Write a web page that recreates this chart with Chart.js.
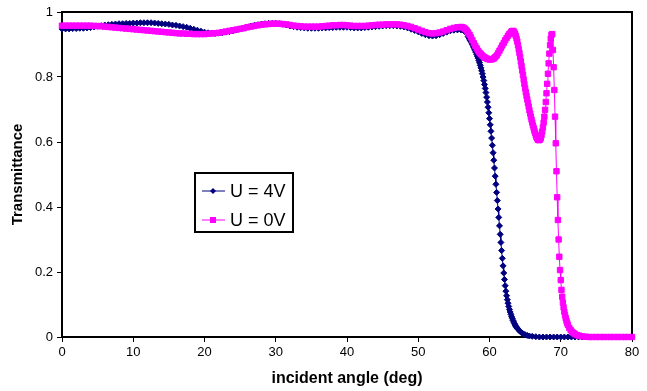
<!DOCTYPE html>
<html>
<head>
<meta charset="utf-8">
<script src="https://cdn.jsdelivr.net/npm/chart.js@4.4.0/dist/chart.umd.min.js"></script>
<style>
  body { margin: 0; background: #fff; }
  #wrap { position: relative; width: 647px; height: 391px; }
</style>
</head>
<body>
<div id="wrap"><canvas id="transChart"></canvas></div>
<script>
// angles (deg) shared by both curves in the flat part
var flatAngles = [0, 0.5, 1, 1.5, 2, 2.5, 3, 3.5, 4, 4.5, 5, 5.5, 6, 6.5, 7, 7.5, 8, 8.5, 9, 9.5,
  10, 10.5, 11, 11.5, 12, 12.5, 13, 13.5, 14, 14.5, 15, 15.5, 16, 16.5, 17, 17.5, 18, 18.5, 19, 19.5,
  20, 20.5, 21, 21.5, 22, 22.5, 23, 23.5, 24, 24.5, 25, 25.5, 26, 26.5, 27, 27.5, 28, 28.5, 29, 29.5,
  30, 30.5, 31, 31.5, 32, 32.5, 33, 33.5, 34, 34.5, 35, 35.5, 36, 36.5, 37, 37.5, 38, 38.5, 39, 39.5,
  40, 40.5, 41, 41.5, 42, 42.5, 43, 43.5, 44, 44.5, 45, 45.5, 46, 46.5, 47, 47.5, 48, 48.5, 49, 49.5,
  50, 50.5, 51, 51.5, 52, 52.5, 53, 53.5, 54, 54.5, 55, 55.5, 56];

// U = 4V
var u4Flat = [0.948, 0.948, 0.948, 0.949, 0.949, 0.95, 0.95, 0.951, 0.952, 0.954, 0.956, 0.958, 0.96, 0.961, 0.962, 0.963, 0.964, 0.964, 0.965, 0.965,
  0.966, 0.966, 0.967, 0.967, 0.967, 0.967, 0.966, 0.965, 0.964, 0.963, 0.962, 0.96, 0.959, 0.957, 0.955, 0.953, 0.95, 0.947, 0.944, 0.941,
  0.938, 0.936, 0.935, 0.934, 0.935, 0.936, 0.938, 0.94, 0.942, 0.945, 0.948, 0.951, 0.954, 0.957, 0.959, 0.961, 0.963, 0.964, 0.965, 0.965,
  0.965, 0.964, 0.962, 0.96, 0.957, 0.955, 0.953, 0.952, 0.951, 0.95, 0.95, 0.95, 0.95, 0.951, 0.951, 0.952, 0.952, 0.953, 0.953, 0.953,
  0.953, 0.952, 0.951, 0.951, 0.951, 0.952, 0.953, 0.954, 0.955, 0.956, 0.957, 0.958, 0.958, 0.958, 0.957, 0.956, 0.954, 0.951, 0.947, 0.943,
  0.939, 0.934, 0.93, 0.927, 0.926, 0.927, 0.93, 0.934, 0.938, 0.942, 0.944, 0.945, 0.945];
var u4EdgeAngles = [56.5, 57, 57.1, 57.2, 57.3, 57.4, 57.5, 57.6, 57.7, 57.8, 57.9,
  58, 58.1, 58.2, 58.3, 58.4, 58.5, 58.6, 58.7, 58.8, 58.9,
  59, 59.1, 59.2, 59.3, 59.4, 59.5, 59.6, 59.7, 59.8, 59.9,
  60, 60.1, 60.2, 60.3, 60.4, 60.5, 60.6, 60.7, 60.8, 60.9,
  61, 61.1, 61.2, 61.3, 61.4, 61.5, 61.6, 61.7, 61.8, 61.9,
  62, 62.1, 62.2, 62.3, 62.4, 62.5, 62.6, 62.7, 62.8, 62.9,
  63, 63.1, 63.2, 63.3, 63.4, 63.5, 63.6, 63.7, 63.8, 63.9,
  64, 64.2, 64.4, 64.6, 64.8, 65, 65.3, 65.6, 66, 66.5,
  67, 67.5, 68, 68.5, 69, 69.5, 70, 70.5, 71, 71.5, 72, 72.5, 73, 73.5, 74, 75, 76, 77, 78, 79, 80];
var u4Edge = [0.94, 0.925, 0.921, 0.917, 0.913, 0.909, 0.905, 0.9, 0.896, 0.891, 0.886,
  0.881, 0.876, 0.87, 0.864, 0.858, 0.851, 0.844, 0.836, 0.828, 0.819,
  0.81, 0.8, 0.789, 0.777, 0.765, 0.752, 0.738, 0.723, 0.707, 0.69,
  0.672, 0.653, 0.633, 0.612, 0.59, 0.567, 0.544, 0.52, 0.495, 0.47,
  0.445, 0.42, 0.394, 0.368, 0.342, 0.316, 0.291, 0.266, 0.242, 0.219,
  0.197, 0.177, 0.158, 0.141, 0.127, 0.115, 0.104, 0.094, 0.085, 0.077,
  0.07, 0.063, 0.057, 0.051, 0.046, 0.041, 0.037, 0.033, 0.03, 0.027,
  0.024, 0.019, 0.015, 0.012, 0.009, 0.007, 0.005, 0.003, 0.002, 0.001,
  0, 0, 0, 0, 0, 0, 0, 0, 0, 0, 0, 0, 0, 0, 0, 0, 0, 0, 0, 0, 0];

// U = 0V
var u0Flat = [0.958, 0.958, 0.958, 0.958, 0.958, 0.958, 0.958, 0.958, 0.958, 0.957, 0.957, 0.956, 0.955, 0.954, 0.953, 0.952, 0.951, 0.95, 0.949, 0.948,
  0.947, 0.946, 0.945, 0.944, 0.943, 0.942, 0.941, 0.94, 0.939, 0.938, 0.937, 0.936, 0.935, 0.934, 0.934, 0.933, 0.933, 0.932, 0.932, 0.932,
  0.932, 0.933, 0.934, 0.935, 0.936, 0.938, 0.94, 0.942, 0.944, 0.946, 0.948, 0.95, 0.953, 0.955, 0.957, 0.959, 0.961, 0.962, 0.963, 0.964,
  0.964, 0.964, 0.963, 0.962, 0.96, 0.958, 0.957, 0.956, 0.955, 0.955, 0.955, 0.955, 0.955, 0.956, 0.957, 0.958, 0.959, 0.959, 0.96, 0.96,
  0.959, 0.958, 0.957, 0.957, 0.957, 0.957, 0.958, 0.959, 0.96, 0.961, 0.961, 0.962, 0.962, 0.962, 0.962, 0.961, 0.959, 0.957, 0.954, 0.95,
  0.946, 0.942, 0.938, 0.935, 0.934, 0.935, 0.937, 0.94, 0.944, 0.948, 0.951, 0.953, 0.954];
var u0EdgeAngles = [56.2, 56.4, 56.6, 56.8, 57, 57.2, 57.4, 57.6, 57.8,
  58, 58.2, 58.4, 58.6, 58.8, 59, 59.2, 59.4, 59.6, 59.8,
  60, 60.2, 60.4, 60.6, 60.8, 61, 61.2, 61.4, 61.6, 61.8,
  62, 62.2, 62.4, 62.6, 62.8, 63, 63.1, 63.2, 63.3, 63.4, 63.5, 63.6, 63.7, 63.8, 63.9,
  64, 64.1, 64.2, 64.3, 64.4, 64.5, 64.6, 64.7, 64.8, 64.9,
  65, 65.1, 65.2, 65.3, 65.4, 65.5, 65.6, 65.7, 65.8, 65.9,
  66, 66.1, 66.2, 66.3, 66.4, 66.5, 66.6, 66.7, 66.8, 66.9,
  67, 67.1, 67.2, 67.3, 67.4, 67.5, 67.6, 67.7, 67.8, 67.9,
  68, 68.1, 68.2, 68.3, 68.4, 68.5, 68.6, 68.7, 68.8, 68.9,
  69, 69.1, 69.2, 69.3, 69.4, 69.5, 69.6, 69.7, 69.8, 69.9,
  70, 70.1, 70.2, 70.3, 70.4, 70.5, 70.6, 70.7, 70.8, 70.9,
  71, 71.2, 71.4, 71.6, 71.8, 72, 72.3, 72.6, 73, 73.5,
  74, 74.5, 75, 75.5, 76, 76.5, 77, 77.5, 78, 78.5, 79, 79.5, 80];
var u0Edge = [0.953, 0.951, 0.948, 0.943, 0.937, 0.93, 0.922, 0.913, 0.904,
  0.896, 0.888, 0.881, 0.875, 0.87, 0.866, 0.862, 0.859, 0.857, 0.855,
  0.854, 0.854, 0.855, 0.857, 0.861, 0.866, 0.873, 0.881, 0.889, 0.897,
  0.905, 0.913, 0.92, 0.927, 0.933, 0.938, 0.94, 0.941, 0.942, 0.94, 0.937, 0.932, 0.926, 0.918, 0.909,
  0.898, 0.886, 0.874, 0.861, 0.848, 0.834, 0.82, 0.806, 0.792, 0.778,
  0.765, 0.753, 0.742, 0.731, 0.72, 0.709, 0.698, 0.688, 0.678, 0.669,
  0.66, 0.651, 0.643, 0.635, 0.628, 0.621, 0.615, 0.611, 0.607, 0.606,
  0.606, 0.608, 0.613, 0.621, 0.632, 0.645, 0.66, 0.678, 0.699, 0.723,
  0.75, 0.779, 0.81, 0.842, 0.872, 0.898, 0.918, 0.93, 0.932, 0.883,
  0.83, 0.76, 0.678, 0.596, 0.51, 0.43, 0.36, 0.3, 0.247, 0.206,
  0.175, 0.145, 0.124, 0.106, 0.091, 0.078, 0.067, 0.058, 0.05, 0.043,
  0.037, 0.028, 0.021, 0.016, 0.012, 0.009, 0.006, 0.004, 0.002, 0.001,
  0, 0, 0, 0, 0, 0, 0, 0, 0, 0, 0, 0, 0];

var yTicks = [0, 0.2, 0.4, 0.6, 0.8, 1];
var yTickLabels = ["0", "0.2", "0.4", "0.6", "0.8", "1"];

function toPoints(xs, ys) {
  return xs.map(function (x, i) { return { x: x, y: ys[i] }; });
}

var navy = "#000080";
var magenta = "#FF00FF";
var fontFamily = "Arial, 'Liberation Sans', sans-serif";

// black frame round the plot area, drawn under the curves
var framePlugin = {
  id: "frame",
  beforeDatasetsDraw: function (chart) {
    var a = chart.chartArea, ctx = chart.ctx;
    ctx.save();
    ctx.strokeStyle = "#000";
    ctx.lineWidth = 2;
    ctx.strokeRect(a.left, a.top, a.right - a.left, a.bottom - a.top);
    ctx.restore();
  }
};

// boxed legend sitting inside the plot
var boxLegend = {
  id: "boxLegend",
  afterDraw: function (chart) {
    var ctx = chart.ctx;
    var x0 = 195, y0 = 173, w = 98, h = 59;
    ctx.save();
    ctx.fillStyle = "#fff";
    ctx.fillRect(x0, y0, w, h);
    ctx.strokeStyle = "#000";
    ctx.lineWidth = 2;
    ctx.strokeRect(x0, y0, w, h);
    chart.data.datasets.forEach(function (ds, i) {
      var y = i === 0 ? 191 : 220;
      ctx.strokeStyle = ds.borderColor;
      ctx.lineWidth = 1;
      ctx.beginPath();
      ctx.moveTo(202, y);
      ctx.lineTo(225, y);
      ctx.stroke();
      ctx.fillStyle = ds.pointBackgroundColor;
      ctx.beginPath();
      if (ds.pointStyle === "rectRot") {
        ctx.moveTo(213, y - 3); ctx.lineTo(216, y); ctx.lineTo(213, y + 3); ctx.lineTo(210, y);
      } else {
        ctx.rect(210, y - 3, 6, 6);
      }
      ctx.closePath();
      ctx.fill();
      ctx.fillStyle = "#000";
      ctx.font = "18px " + fontFamily;
      ctx.textBaseline = "middle";
      ctx.fillText(ds.label, 230, y + 1);
    });
    ctx.restore();
  }
};

new Chart(document.getElementById("transChart"), {
  type: "line",
  data: {
    datasets: [{
      label: "U = 4V",
      data: toPoints(flatAngles.concat(u4EdgeAngles), u4Flat.concat(u4Edge)),
      borderColor: navy,
      borderWidth: 1,
      pointStyle: "rectRot",
      pointRadius: 3,
      pointBorderWidth: 1,
      pointBackgroundColor: navy,
      pointBorderColor: navy,
      order: 1,
      clip: false
    }, {
      label: "U = 0V",
      data: toPoints(flatAngles.concat(u0EdgeAngles), u0Flat.concat(u0Edge)),
      borderColor: magenta,
      borderWidth: 1,
      pointStyle: "rect",
      pointRadius: 3.8,
      pointBorderWidth: 1,
      pointBackgroundColor: magenta,
      pointBorderColor: magenta,
      order: 0,
      clip: false
    }]
  },
  options: {
    responsive: true,
    maintainAspectRatio: false,
    animation: false,
    layout: { padding: { left: 0, top: 12, right: 15, bottom: 0 } },
    plugins: {
      legend: { display: false },
      tooltip: { enabled: false }
    },
    scales: {
      x: {
        type: "linear",
        min: 0,
        max: 80,
        afterFit: function (scale) { scale.height = 54; },
        ticks: { stepSize: 10, color: "#000", padding: 3, font: { family: fontFamily, size: 13 } },
        grid: { drawOnChartArea: false, drawTicks: true, tickLength: 5, color: "#000" },
        border: { display: false },
        title: {
          display: true,
          text: "incident angle (deg)",
          color: "#000",
          padding: { top: 0, bottom: 3 },
          font: { family: fontFamily, size: 16, weight: "bold" }
        }
      },
      y: {
        min: 0,
        max: 1,
        afterFit: function (scale) { scale.width = 62; },
        afterBuildTicks: function (scale) {
          scale.ticks = yTicks.map(function (v) { return { value: v }; });
        },
        ticks: {
          color: "#000",
          padding: 4,
          font: { family: fontFamily, size: 13 },
          callback: function (value, index) { return yTickLabels[index]; }
        },
        grid: { drawOnChartArea: false, drawTicks: true, tickLength: 5, color: "#000" },
        border: { display: false },
        title: {
          display: true,
          text: "Transmittance",
          color: "#000",
          padding: { top: 9, bottom: 0 },
          font: { family: fontFamily, size: 15, weight: "bold" }
        }
      }
    }
  },
  plugins: [framePlugin, boxLegend]
});
</script>
</body>
</html>
